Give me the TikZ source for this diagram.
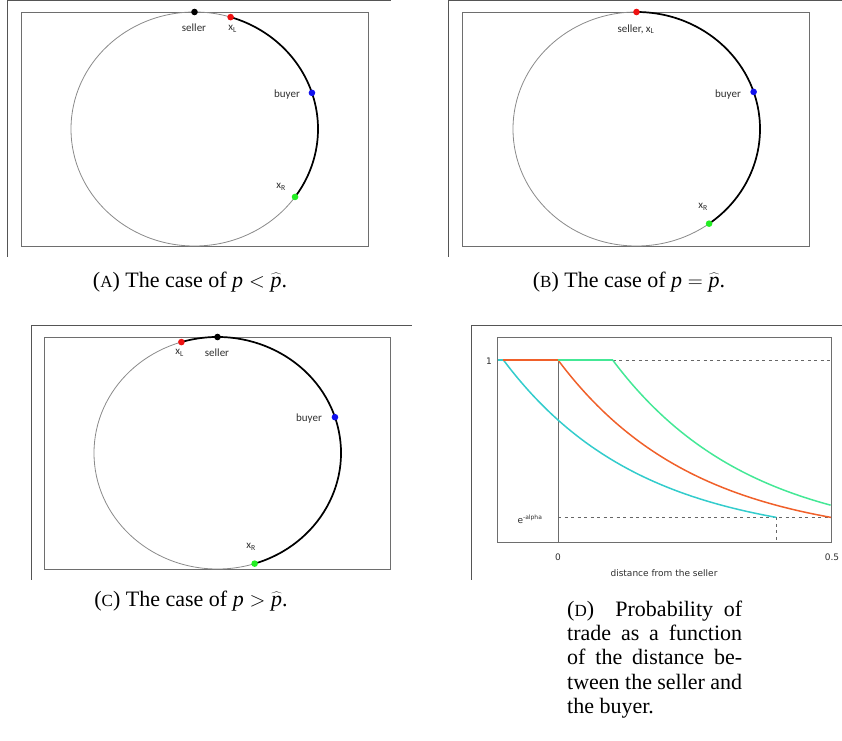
\documentclass[tikz,border=0pt]{standalone}
\usepackage{fontspec}
\setmainfont{Liberation Serif}
\newfontfamily\lblfont{Carlito}
\newfontfamily\plotfont{DejaVu Sans}
\newcommand\fsc[1]{{\fontsize{17}{19}\selectfont #1}}
\definecolor{framegray}{HTML}{555555}
\definecolor{rectgray}{HTML}{6E6E6E}
\definecolor{ellgray}{HTML}{8A8A8A}
\definecolor{txtgray}{HTML}{2E2E2E}
\definecolor{cyanc}{HTML}{33CCCC}
\definecolor{orangec}{HTML}{F0602A}
\definecolor{greenc}{HTML}{44E896}
\definecolor{dotred}{HTML}{EE1111}
\definecolor{dotblue}{HTML}{1111EE}
\definecolor{dotgreen}{HTML}{22EE22}
\begin{document}
\begin{tikzpicture}[x=1pt,y=1pt,
  frameln/.style={draw=framegray, line width=1pt},
  innerbox/.style={draw=rectgray, line width=0.9pt},
  ell/.style={draw=ellgray, line width=0.8pt},
  arcln/.style={draw=black, line width=1.7pt},
  dot/.style={circle, inner sep=0pt, minimum size=6.6pt, draw=none},
  lbl/.style={font=\lblfont\fontsize{11}{12}\selectfont, text=txtgray, inner sep=0pt},
  plbl/.style={font=\plotfont\fontsize{9}{11}\selectfont, text=txtgray, inner sep=0pt},
  capt/.style={font=\fontsize{22}{24.3}\selectfont, anchor=base, inner sep=0pt},
  capd/.style={font=\fontsize{22}{24.3}\selectfont, anchor=north west, inner sep=0pt, text width=175pt, align=justify},
  axisln/.style={draw=gray!85!black, line width=0.9pt},
  dashln/.style={draw=gray!80!black, line width=0.8pt, dash pattern=on 3pt off 3.5pt},
  curve/.style={line width=1.5pt}
]
\useasboundingbox (0,0) rectangle (842,-740);

% ---------------- Panel A ----------------
\draw[frameln] (7,-0.7) -- (391,-0.7);
\draw[frameln] (7,-0.7) -- (7,-257);
\draw[innerbox] (21,-12) rectangle (368,-246);
\coordinate (cA) at (194.5,-129);
\draw[ell] (cA) ellipse [x radius=123.5pt, y radius=117pt];
\coordinate (pSA) at ([shift={(90:123.5pt and 117pt)}]cA);
\coordinate (pLA) at ([shift={(73:123.5pt and 117pt)}]cA);
\coordinate (pBA) at ([shift={(18:123.5pt and 117pt)}]cA);
\coordinate (pRA) at ([shift={(-35.5:123.5pt and 117pt)}]cA);
\draw[arcln] (pLA) arc[start angle=73, end angle=-35.5, x radius=123.5pt, y radius=117pt];
\node[dot, fill=black] (sA) at (pSA) {};
\node[dot, fill=dotred] (xLA) at (pLA) {};
\node[dot, fill=dotblue] (bA) at (pBA) {};
\node[dot, fill=dotgreen] (xRA) at (pRA) {};
\node[lbl] (tsA) at (194,-28) {seller};
\node[lbl] (tlA) at (232.5,-29) {x\textsubscript{L}};
\node[lbl] (tbA) at (287,-95) {buyer};
\node[lbl] (trA) at (281,-187) {x\textsubscript{R}};
\node[capt] (capA) at (190,-287) {(\fsc{A}) The case of $\textit{p} < \widehat{\textit{p}}$.};

% ---------------- Panel B ----------------
\draw[frameln] (448,-0.7) -- (842,-0.7);
\draw[frameln] (448,-0.7) -- (448,-257);
\draw[innerbox] (462,-12) rectangle (809,-246);
\coordinate (cB) at (636.5,-129);
\draw[ell] (cB) ellipse [x radius=123.5pt, y radius=117pt];
\coordinate (pLB) at ([shift={(90:123.5pt and 117pt)}]cB);
\coordinate (pBB) at ([shift={(18.5:123.5pt and 117pt)}]cB);
\coordinate (pRB) at ([shift={(-54:123.5pt and 117pt)}]cB);
\draw[arcln] (pLB) arc[start angle=90, end angle=-54, x radius=123.5pt, y radius=117pt];
\node[dot, fill=dotred] (xLB) at (pLB) {};
\node[dot, fill=dotblue] (bB) at (pBB) {};
\node[dot, fill=dotgreen] (xRB) at (pRB) {};
\node[lbl] (tsB) at (636,-29) {seller, x\textsubscript{L}};
\node[lbl] (tbB) at (728,-95) {buyer};
\node[lbl] (trB) at (703,-207) {x\textsubscript{R}};
\node[capt] (capB) at (629,-287) {(\fsc{B}) The case of $\textit{p} = \widehat{\textit{p}}$.};

% ---------------- Panel C ----------------
\draw[frameln] (31,-325) -- (412,-325);
\draw[frameln] (31,-325) -- (31,-580);
\draw[innerbox] (44,-337) rectangle (390,-569);
\coordinate (cC) at (217.5,-453);
\draw[ell] (cC) ellipse [x radius=123.5pt, y radius=116pt];
\coordinate (pSC) at ([shift={(90:123.5pt and 116pt)}]cC);
\coordinate (pLC) at ([shift={(107:123.5pt and 116pt)}]cC);
\coordinate (pBC) at ([shift={(18:123.5pt and 116pt)}]cC);
\coordinate (pRC) at ([shift={(-72.5:123.5pt and 116pt)}]cC);
\draw[arcln] (pLC) arc[start angle=107, end angle=-72.5, x radius=123.5pt, y radius=116pt];
\node[dot, fill=black] (sC) at (pSC) {};
\node[dot, fill=dotred] (xLC) at (pLC) {};
\node[dot, fill=dotblue] (bC) at (pBC) {};
\node[dot, fill=dotgreen] (xRC) at (pRC) {};
\node[lbl] (tlC) at (179.5,-353) {x\textsubscript{L}};
\node[lbl] (tsC) at (217,-353) {seller};
\node[lbl] (tbC) at (309,-419) {buyer};
\node[lbl] (trC) at (251,-547) {x\textsubscript{R}};
\node[capt] (capC) at (191,-606) {(\fsc{C}) The case of $\textit{p} > \widehat{\textit{p}}$.};

% ---------------- Panel D ----------------
\draw[frameln] (471,-325) -- (842,-325);
\draw[frameln] (471,-325) -- (471,-580);
\draw[innerbox] (497,-337) rectangle (831,-542);
\coordinate (zeroTop) at (558,-360);
\coordinate (zeroBot) at (558,-542);
\draw[axisln] (zeroTop) -- (zeroBot);
\coordinate (gStart) at (612.6,-360);
\coordinate (oneEnd) at (831,-360);
\draw[dashln] (gStart) -- (oneEnd);
\coordinate (eaStart) at (558,-517.4);
\coordinate (eaEnd) at (831,-517.4);
\draw[dashln] (eaStart) -- (eaEnd);
\coordinate (cEnd) at (776.4,-517.4);
\coordinate (cEndBot) at (776.4,-542);
\draw[dashln] (cEnd) -- (cEndBot);
% cyan
\draw[curve, cyanc] (497.5,-360) -- (503.4,-360);
\draw[curve, cyanc] plot[domain=-0.1:0.4, samples=90, smooth] ({558+546*\x}, {-542+182*exp(-4*(\x+0.1))});
% orange
\draw[curve, orangec] (503.4,-360) -- (558,-360);
\draw[curve, orangec] plot[domain=0:0.5, samples=90, smooth] ({558+546*\x}, {-542+182*exp(-4*\x)});
% green
\draw[curve, greenc] (558,-360) -- (612.6,-360);
\draw[curve, greenc] plot[domain=0.1:0.5, samples=90, smooth] ({558+546*\x}, {-542+182*exp(-4*(\x-0.1))});
\node[plbl] (tOne) at (489,-361) {1};
\node[plbl] (tEa) at (530,-519) {e\textsuperscript{-alpha}};
\node[plbl] (tZero) at (558,-557) {0};
\node[plbl] (tHalf) at (832,-557) {0.5};
\node[plbl] (tDist) at (664,-573) {distance from the seller};
\node[capd] (capD) at (567,-599) {\strut(\fsc{D})\ \ Probability of\linebreak trade as a function\linebreak of the distance be-\linebreak tween the seller and\linebreak the buyer.};
\end{tikzpicture}
\end{document}
